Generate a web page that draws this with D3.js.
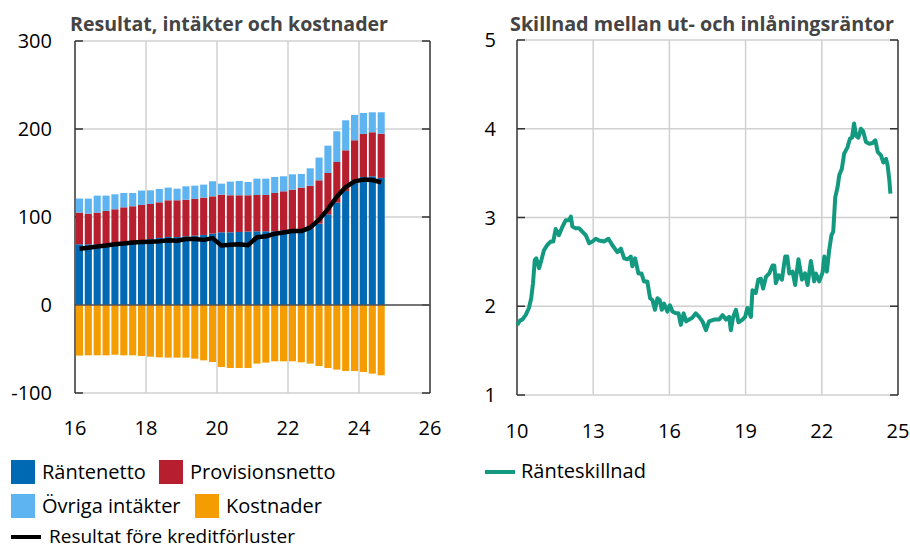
<!DOCTYPE html>
<html>
<head>
<meta charset="utf-8">
<script src="https://cdn.jsdelivr.net/npm/d3@7"></script>
<style>
  body { margin: 0; background: #fff; }
  text { font-family: "Open Sans", sans-serif; fill: #000; }
  .title { font-weight: bold; fill: #444; }
</style>
</head>
<body>
<div id="chart"></div>
<script>
// ---- data: left panel, quarterly 2016Q1 - 2024Q3 (mdr kr) ----
const quarters = d3.range(35).map(i => `${2016 + Math.floor(i / 4)}Q${i % 4 + 1}`);

const rantenetto = [69, 69, 69, 69, 69.7, 70.5, 71.6, 73.5, 75, 76.2, 77.3, 77.3, 78.1, 78.8, 79.6, 81.1,
  82.6, 82.6, 83, 83.4, 83.8, 83.8, 83.8, 84.9, 85.6, 86, 86.8, 92.5, 103.1, 116.3, 129.6, 141.7, 145.5, 146.3, 144.4];
const provisionsnetto = [36, 34.8, 36, 37.9, 39.1, 40.5, 40.6, 40.2, 39.8, 40.5, 41.7, 41.7, 41.6, 41.7, 42.4, 42.4,
  42.8, 42.1, 41.7, 41.3, 41.2, 41.2, 43.5, 44.3, 45.5, 47.4, 48.8, 49.2, 46.9, 46.2, 46.2, 45.5, 48.9, 50, 50.3];
const ovrigaIntakter = [16, 17.1, 19.3, 17.4, 17, 16.3, 15.1, 16.3, 15.5, 15.2, 14.4, 13.2, 15.2, 15.1, 14.8, 17.1,
  12.5, 15.5, 16.2, 15.1, 18.6, 18.6, 18.2, 17.1, 17.4, 15.5, 19.7, 25.8, 31.1, 34.9, 34.1, 28.8, 23.8, 22.7, 24.3];
const kostnader = [-57.5, -57.2, -57.2, -57.2, -56.5, -57.2, -57.2, -57.9, -58.7, -59.5, -59.8, -59.8, -59.8, -61, -62.9, -64.8,
  -70.4, -71.6, -71.6, -71.6, -66.6, -65.5, -64, -64, -64, -65.1, -66.6, -69.3, -71.6, -73.4, -75, -75, -76.1, -78, -79.9];
const resultat = [64, 65, 66.5, 67.5, 69, 70, 71, 71.5, 72, 72.5, 73.5, 73, 75, 75, 74, 76,
  67.5, 68.5, 69, 68, 77, 78, 81, 82.5, 84, 84, 88, 97, 109, 123, 134, 140.5, 142.5, 142, 139.5];

const leftYTicks = [-100, 0, 100, 200, 300];
const leftXTicks = [16, 18, 20, 22, 24, 26];

// ---- data: right panel, interest rate spread (procentenheter) ----
const spreadDates = [10.01, 10.12, 10.21, 10.34, 10.47, 10.56, 10.63, 10.70, 10.76, 10.87, 10.96, 11.06, 11.19, 11.33, 11.43,
  11.52, 11.65, 11.78, 11.92, 12.05, 12.12, 12.18, 12.31, 12.44, 12.57, 12.71, 12.84, 12.97, 13.10, 13.23, 13.43, 13.60,
  13.75, 13.95, 14.09, 14.22, 14.35, 14.48, 14.54, 14.65, 14.78, 14.90, 15.00, 15.13, 15.24, 15.33, 15.43, 15.53, 15.62,
  15.70, 15.79, 15.92, 16.02, 16.12, 16.25, 16.36, 16.45, 16.56, 16.66, 16.78, 16.90, 17.04, 17.17, 17.30, 17.44, 17.56,
  17.76, 17.96, 18.09, 18.23, 18.35, 18.42, 18.51, 18.62, 18.72, 18.88, 18.98, 19.07, 19.21, 19.27, 19.40, 19.50, 19.60,
  19.69, 19.80, 19.93, 20.06, 20.13, 20.19, 20.30, 20.43, 20.56, 20.64, 20.72, 20.85, 20.95, 21.08, 21.22, 21.34, 21.44,
  21.57, 21.70, 21.77, 21.90, 22.03, 22.10, 22.20, 22.29, 22.38, 22.45, 22.53, 22.62, 22.69, 22.79, 22.88, 23.01, 23.11,
  23.19, 23.27, 23.35, 23.44, 23.54, 23.63, 23.74, 23.87, 24.00, 24.11, 24.20, 24.33, 24.42, 24.53, 24.59, 24.66, 24.70];
const spreadValues = [1.79, 1.84, 1.85, 1.90, 1.98, 2.09, 2.26, 2.52, 2.54, 2.43, 2.52, 2.63, 2.69, 2.73, 2.73,
  2.87, 2.80, 2.89, 2.97, 2.97, 3.01, 2.90, 2.88, 2.88, 2.84, 2.80, 2.71, 2.73, 2.76, 2.74, 2.73, 2.76,
  2.69, 2.61, 2.65, 2.54, 2.53, 2.56, 2.45, 2.54, 2.37, 2.37, 2.28, 2.28, 2.09, 2.07, 1.96, 2.09, 2.07,
  1.96, 2.03, 1.94, 2.01, 1.94, 1.92, 1.92, 1.79, 1.92, 1.83, 1.85, 1.87, 1.92, 1.88, 1.83, 1.73, 1.83,
  1.85, 1.85, 1.90, 1.85, 1.88, 1.73, 1.88, 1.96, 1.82, 1.85, 1.88, 1.98, 1.88, 2.18, 2.15, 2.30, 2.31,
  2.20, 2.33, 2.37, 2.46, 2.46, 2.26, 2.35, 2.30, 2.56, 2.56, 2.37, 2.39, 2.24, 2.53, 2.30, 2.37, 2.24,
  2.51, 2.28, 2.37, 2.28, 2.38, 2.56, 2.39, 2.63, 2.80, 2.84, 3.23, 3.34, 3.48, 3.55, 3.72, 3.79, 3.89,
  3.90, 4.06, 3.92, 3.90, 4.00, 3.97, 3.85, 3.83, 3.84, 3.87, 3.74, 3.70, 3.62, 3.66, 3.59, 3.42, 3.27];

const rightYTicks = [1, 2, 3, 4, 5];
const rightXTicks = [10, 13, 16, 19, 22, 25];

const colors = {
  rantenetto: "#0069b4",
  provisionsnetto: "#b81f2e",
  ovriga: "#5eb4f0",
  kostnader: "#f59c00",
  spread: "#139980"
};
const gridColor = "#d0d0d0";
const axisColor = "#333";

const svg = d3.select("#chart").append("svg")
  .attr("width", 910)
  .attr("height", 550);

// frame helper: gridlines, side axes with inward ticks, labels
function drawFrame(g, x, y, xTicks, yTicks, opts) {
  const [x0, x1] = x.range();
  const [y0, y1] = y.range(); // y0 bottom, y1 top

  g.selectAll(".vgrid").data(xTicks.slice(1, -1)).join("line")
    .attr("x1", d => x(d)).attr("x2", d => x(d))
    .attr("y1", y1).attr("y2", y0)
    .attr("stroke", gridColor).attr("stroke-width", 1.5);

  g.selectAll(".hgrid").data(yTicks).join("line")
    .attr("x1", x0).attr("x2", x1)
    .attr("y1", d => y(d)).attr("y2", d => y(d))
    .attr("stroke", gridColor).attr("stroke-width", 1.5);

  // left + right axis lines
  [x0, x1].forEach(xx => {
    g.append("line").attr("x1", xx).attr("x2", xx).attr("y1", y1).attr("y2", y0)
      .attr("stroke", axisColor).attr("stroke-width", 1.5);
  });

  // inward ticks on both sides
  g.selectAll(".ltick").data(yTicks).join("line")
    .attr("x1", x0).attr("x2", x0 + 8)
    .attr("y1", d => y(d)).attr("y2", d => y(d))
    .attr("stroke", axisColor).attr("stroke-width", 1.5);
  g.selectAll(".rtick").data(yTicks).join("line")
    .attr("x1", x1 - 8).attr("x2", x1)
    .attr("y1", d => y(d)).attr("y2", d => y(d))
    .attr("stroke", axisColor).attr("stroke-width", 1.5);

  g.selectAll(".ylab").data(yTicks).join("text")
    .attr("x", opts.yLabelX).attr("y", d => y(d) + 7)
    .attr("text-anchor", "end")
    .style("font-size", "20px")
    .text(d => d);

  g.selectAll(".xlab").data(xTicks).join("text")
    .attr("x", d => x(d)).attr("y", opts.xLabelY)
    .attr("text-anchor", "middle")
    .style("font-size", "20px")
    .text(d => d);
}

// ================= left panel =================
const xL = d3.scaleLinear().domain([16, 26]).range([75, 430]);
const yL = d3.scaleLinear().domain([-100, 300]).range([393, 41]);
const left = svg.append("g");

drawFrame(left, xL, yL, leftXTicks, leftYTicks, { yLabelX: 52, xLabelY: 435 });

const step = xL(16.25) - xL(16);
const barW = step * 0.8;
const qPos = i => 16 + i * 0.25;

const stackRows = quarters.map((q, i) => ({
  i, rantenetto: rantenetto[i], provisionsnetto: provisionsnetto[i], ovriga: ovrigaIntakter[i]
}));
const stacked = d3.stack().keys(["rantenetto", "provisionsnetto", "ovriga"])(stackRows);
const stackColors = [colors.rantenetto, colors.provisionsnetto, colors.ovriga];

stacked.forEach((layer, k) => {
  left.append("g").selectAll("rect").data(layer).join("rect")
    .attr("x", d => xL(qPos(d.data.i)) + step * 0.1)
    .attr("width", barW)
    .attr("y", d => yL(d[1]))
    .attr("height", d => yL(d[0]) - yL(d[1]))
    .attr("fill", stackColors[k]);
});

left.append("g").selectAll("rect").data(kostnader).join("rect")
  .attr("x", (d, i) => xL(qPos(i)) + step * 0.1)
  .attr("width", barW)
  .attr("y", yL(0))
  .attr("height", d => yL(d) - yL(0))
  .attr("fill", colors.kostnader);

// zero line
left.append("line")
  .attr("x1", xL(16)).attr("x2", xL(26))
  .attr("y1", yL(0)).attr("y2", yL(0))
  .attr("stroke", "#555").attr("stroke-width", 1.5);

left.append("path")
  .datum(resultat)
  .attr("fill", "none")
  .attr("stroke", "#000")
  .attr("stroke-width", 4.5)
  .attr("stroke-linejoin", "round")
  .attr("d", d3.line().x((d, i) => xL(qPos(i)) + step * 0.5).y(d => yL(d)));

left.append("text").attr("class", "title")
  .attr("x", 70).attr("y", 31)
  .style("font-size", "20px")
  .attr("textLength", 318)
  .attr("lengthAdjust", "spacingAndGlyphs")
  .text("Resultat, intäkter och kostnader");

// ================= right panel =================
const xR = d3.scaleLinear().domain([10, 25]).range([517, 898]);
const yR = d3.scaleLinear().domain([1, 5]).range([395, 40]);
const right = svg.append("g");

drawFrame(right, xR, yR, rightXTicks, rightYTicks, { yLabelX: 496, xLabelY: 438 });

right.append("path")
  .datum(spreadValues)
  .attr("fill", "none")
  .attr("stroke", colors.spread)
  .attr("stroke-width", 4)
  .attr("stroke-linejoin", "round")
  .attr("d", d3.line().x((d, i) => xR(spreadDates[i])).y(d => yR(d)));

right.append("text").attr("class", "title")
  .attr("x", 510).attr("y", 31)
  .style("font-size", "20px")
  .attr("textLength", 384)
  .attr("lengthAdjust", "spacingAndGlyphs")
  .text("Skillnad mellan ut- och inlåningsräntor");

// ================= legends =================
const legend = svg.append("g");
const swatches = [
  { label: "Räntenetto", color: colors.rantenetto, x: 11, y: 460, tx: 42 },
  { label: "Provisionsnetto", color: colors.provisionsnetto, x: 159, y: 460, tx: 190 },
  { label: "Övriga intäkter", color: colors.ovriga, x: 11, y: 494, tx: 42 },
  { label: "Kostnader", color: colors.kostnader, x: 195, y: 494, tx: 226 }
];
legend.selectAll("rect").data(swatches).join("rect")
  .attr("x", d => d.x).attr("y", d => d.y)
  .attr("width", 24).attr("height", 24)
  .attr("fill", d => d.color);
legend.selectAll("text.sw").data(swatches).join("text")
  .attr("class", "sw")
  .attr("x", d => d.tx).attr("y", d => d.y + 19)
  .style("font-size", "20px")
  .text(d => d.label);

const lineItems = [
  { label: "Resultat före kreditförluster", color: "#000", x: 11, y: 537, tx: 49, size: 19 },
  { label: "Ränteskillnad", color: colors.spread, x: 485, y: 472, tx: 521, size: 20 }
];
lineItems.forEach(d => {
  legend.append("line")
    .attr("x1", d.x).attr("x2", d.x + 30)
    .attr("y1", d.y).attr("y2", d.y)
    .attr("stroke", d.color).attr("stroke-width", 4);
  legend.append("text")
    .attr("x", d.tx).attr("y", d.y + 6)
    .style("font-size", d.size + "px")
    .text(d.label);
});
</script>
</body>
</html>
